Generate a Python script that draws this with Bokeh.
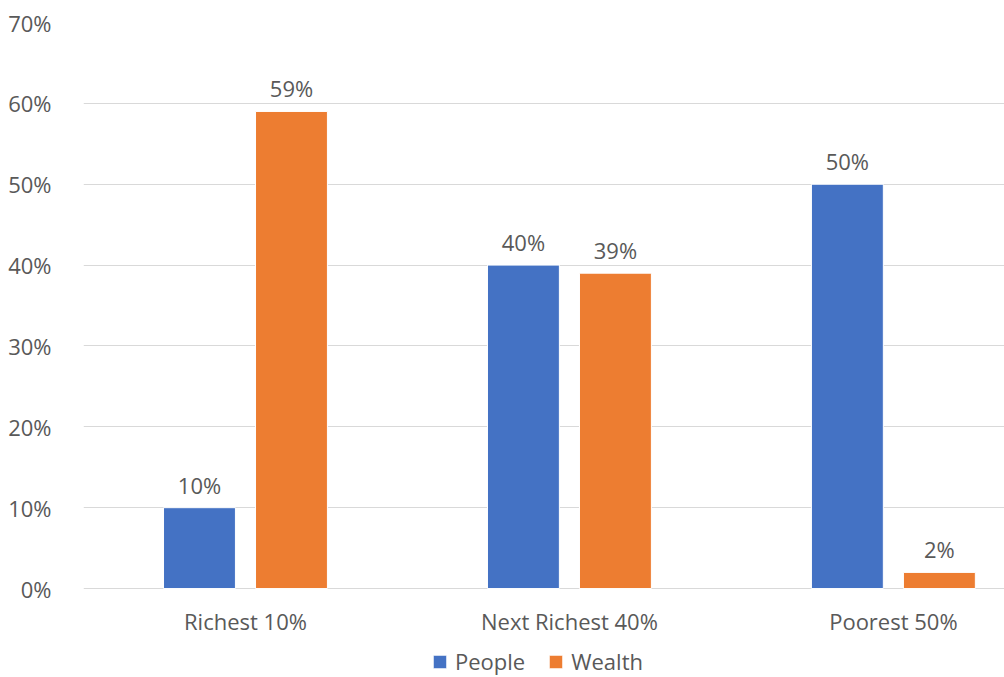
from bokeh.plotting import figure
from bokeh.models import (ColumnDataSource, Range1d, FixedTicker, PrintfTickFormatter,
                          Legend, LegendItem)
from bokeh.embed import file_html
from bokeh.resources import INLINE
from bokeh.core.properties import value

categories = ["Richest 10%", "Next Richest 40%", "Poorest 50%"]
people = [10, 40, 50]
wealth = [59, 39, 2]
y_ticks = [0, 10, 20, 30, 40, 50, 60, 70]

BLUE = "#4472C4"
ORANGE = "#ED7D31"
TXT = "#595959"
FONT = "Open Sans"
FS = "22px"

n = len(categories)
centers = [i + 0.5 for i in range(n)]
off = 0.142
bw = 0.222

src_p = ColumnDataSource(dict(x=[c - off for c in centers], top=people,
                              lab=[f"{v}%" for v in people]))
src_w = ColumnDataSource(dict(x=[c + off for c in centers], top=wealth,
                              lab=[f"{v}%" for v in wealth]))
src_c = ColumnDataSource(dict(x=centers, y=[0] * n, lab=categories))

# frame spans from the 70% line down to the bottom of the window;
# the space below 0 holds the category labels and the legend
p = figure(width=1004, height=677, output_backend="svg", toolbar_location=None,
           x_range=Range1d(0, 2.843), y_range=Range1d(-11.0, 70),
           min_border_left=83, min_border_right=0, min_border_top=22, min_border_bottom=0)
p.outline_line_color = None
p.background_fill_color = "white"

rp = p.vbar(x="x", top="top", width=bw, source=src_p, fill_color=BLUE,
            line_color="white", line_width=1)
rw = p.vbar(x="x", top="top", width=bw, source=src_w, fill_color=ORANGE,
            line_color="white", line_width=1)

for s in (src_p, src_w):
    p.text(x="x", y="top", text="lab", source=s, text_align="center",
           text_baseline="bottom", y_offset=-8, text_color=TXT,
           text_font=value(FONT), text_font_size=FS)

p.text(x="x", y="y", text="lab", source=src_c, text_align="center",
       text_baseline="middle", y_offset=32, text_color=TXT,
       text_font=value(FONT), text_font_size=FS)

p.xaxis.visible = False
p.xgrid.grid_line_color = None
p.ygrid.grid_line_color = "#D9D9D9"
p.ygrid.grid_line_width = 1

p.yaxis.ticker = FixedTicker(ticks=y_ticks)
p.yaxis.formatter = PrintfTickFormatter(format="%d%%")
p.yaxis.axis_line_color = None
p.yaxis.major_tick_line_color = None
p.yaxis.minor_tick_line_color = None
p.yaxis.major_label_text_color = TXT
p.yaxis.major_label_text_font = FONT
p.yaxis.major_label_text_font_size = FS
p.yaxis.major_label_standoff = 26

legend = Legend(items=[LegendItem(label="People", renderers=[rp]),
                       LegendItem(label="Wealth", renderers=[rw])],
                orientation="horizontal", location=(348, 1),
                label_text_font=FONT, label_text_font_size=FS,
                label_text_color=TXT, glyph_width=17, glyph_height=17,
                spacing=22, label_standoff=7, padding=0, margin=0,
                border_line_color=None, background_fill_alpha=0)
p.add_layout(legend, "center")

open("out.html", "w").write(file_html(p, INLINE))
